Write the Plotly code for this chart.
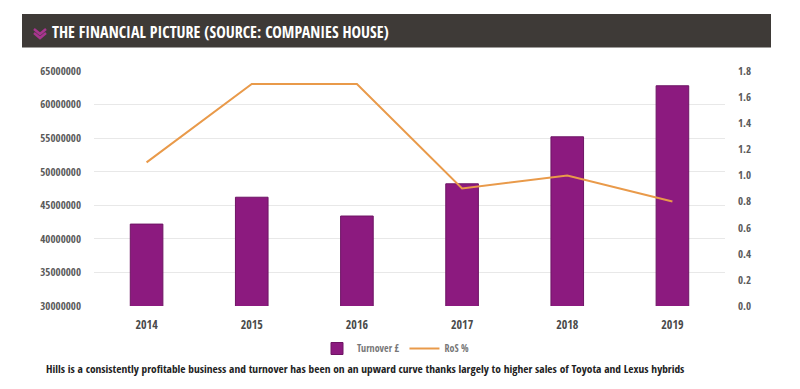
import plotly.graph_objects as go

years = ["2014", "2015", "2016", "2017", "2018", "2019"]
turnover = [42200000, 46200000, 43400000, 48200000, 55200000, 62800000]
ros = [1.1, 1.7, 1.7, 0.9, 1.0, 0.8]
left_ticks = [30000000, 35000000, 40000000, 45000000, 50000000, 55000000, 60000000, 65000000]
right_ticks = [0.0, 0.2, 0.4, 0.6, 0.8, 1.0, 1.2, 1.4, 1.6, 1.8]

title_text = "THE FINANCIAL PICTURE (SOURCE: COMPANIES HOUSE)"
caption_text = ("Hills is a consistently profitable business and turnover has been on an upward "
                "curve thanks largely to higher sales of Toyota and Lexus hybrids")

FONT = "Open Sans Condensed, DejaVu Sans Condensed, sans-serif"
W, H = 800, 389
ML, MR, MT, MB = 94, 75, 71, 83
PW, PH = W - ML - MR, H - MT - MB


def px(x):
    return (x - ML) / PW


def py(y):
    return (H - MB - y) / PH


fig = go.Figure()
fig.add_trace(go.Bar(x=years, y=turnover, name="Turnover £",
                     marker=dict(color="#8c1a7f", line=dict(color="#6e1464", width=1)),
                     yaxis="y"))
fig.add_trace(go.Scatter(x=years, y=ros, name="RoS %", mode="lines",
                         line=dict(color="#e99a4a", width=2), yaxis="y2"))

shapes = [
    dict(type="rect", xref="paper", yref="paper", x0=px(22), x1=px(771), y0=py(47.5), y1=py(14),
         fillcolor="#3e3a37", line=dict(width=0), layer="below"),
]
for off in (0, 4):
    shapes.append(dict(type="path", xref="paper", yref="paper",
                       path=f"M {px(34)},{py(29+off)} L {px(40)},{py(34+off)} L {px(46)},{py(29+off)}",
                       line=dict(color="#a8358f", width=2.5)))

tick_font = dict(family=FONT, size=11, color="#5a5a5a")

fig.update_layout(
    width=W, height=H,
    margin=dict(l=ML, r=MR, t=MT, b=MB, autoexpand=False),
    paper_bgcolor="white", plot_bgcolor="white",
    bargap=0.69,
    showlegend=True,
    legend=dict(orientation="h", x=px(396), xanchor="center", y=py(334), yanchor="top",
                font=dict(family=FONT, size=10, color="#777777"), itemwidth=30,
                traceorder="normal", tracegroupgap=0),
    xaxis=dict(type="category", showgrid=False, zeroline=False, showline=False,
               tickfont=dict(family=FONT, size=12, color="#4a4a4a"), ticks="",
               ticklabelstandoff=10),
    yaxis=dict(range=[30000000, 65000000], tickvals=left_ticks,
               ticktext=[str(v) for v in left_ticks],
               showgrid=True, gridcolor="#e8e8e8", zeroline=False, showline=False,
               tickfont=tick_font, ticks="", ticklabelstandoff=12),
    yaxis2=dict(range=[0, 1.8], tickvals=right_ticks,
                ticktext=[f"{v:.1f}" for v in right_ticks],
                overlaying="y", side="right", showgrid=False, zeroline=False, showline=False,
                tickfont=tick_font, ticks="", ticklabelstandoff=12),
    shapes=shapes,
    annotations=[
        dict(text=title_text, xref="paper", yref="paper", x=px(50), y=py(32),
             xanchor="left", yanchor="middle", showarrow=False,
             font=dict(family=FONT, size=16, color="white")),
        dict(text=caption_text, xref="paper", yref="paper", x=px(44), y=py(368),
             xanchor="left", yanchor="middle", showarrow=False,
             font=dict(family=FONT, size=11.4, color="#222222")),
    ],
)

fig.write_html("out.html", config={"displayModeBar": False},
               post_script="document.body.style.margin='0';")
